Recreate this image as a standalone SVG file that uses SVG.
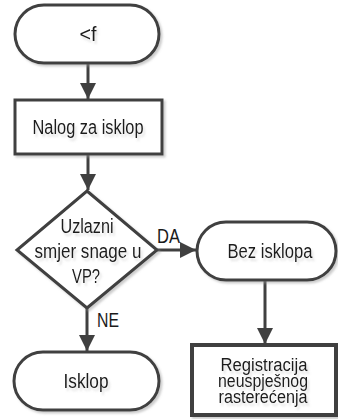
<svg xmlns="http://www.w3.org/2000/svg" width="338" height="419" viewBox="0 0 338 419">
<defs>
<style>
.s{fill:#fff;stroke:#404040;stroke-width:3;filter:url(#sh)}
.t{font-family:"Liberation Sans",Arial,sans-serif;font-size:20px;fill:#1a1a1a;text-anchor:middle;filter:url(#tsh)}
.r{font-size:18px}
.l{font-family:"Liberation Sans",Arial,sans-serif;font-size:20px;fill:#1a1a1a}
.c{fill:none;stroke:#404040;stroke-width:3}
</style>
<filter id="sh" x="-10%" y="-10%" width="130%" height="130%">
<feDropShadow dx="2" dy="2" stdDeviation="1" flood-color="#999" flood-opacity="0.5"/>
</filter>
<filter id="tsh" x="-10%" y="-20%" width="130%" height="160%">
<feDropShadow dx="2" dy="3" stdDeviation="1.2" flood-color="#999" flood-opacity="0.3"/>
</filter>
<marker id="ah" viewBox="0 0 10 10" refX="10" refY="5" markerWidth="5.5" markerHeight="5.5" orient="auto" markerUnits="strokeWidth">
<path d="M0,0L10,5L0,10z" fill="#404040"/>
</marker>
</defs>
<g id="connectors">
<line class="c" x1="88" y1="63" x2="88" y2="99" marker-end="url(#ah)"/>
<line class="c" x1="88" y1="154" x2="88" y2="190" marker-end="url(#ah)"/>
<line class="c" x1="157" y1="250" x2="196" y2="250" marker-end="url(#ah)"/>
<line class="c" x1="87" y1="308" x2="87" y2="351" marker-end="url(#ah)"/>
<line class="c" x1="265" y1="280" x2="265" y2="344" marker-end="url(#ah)"/>
<text class="l" x="157" y="243" textLength="23" lengthAdjust="spacingAndGlyphs">DA</text>
<text class="l" x="97" y="327" textLength="22" lengthAdjust="spacingAndGlyphs">NE</text>
</g>
<g id="start">
<rect class="s" x="15" y="5" width="144" height="58" rx="29"/>
<text class="t" x="88" y="41" textLength="17" lengthAdjust="spacingAndGlyphs">&lt;f</text>
</g>
<g id="nalog">
<rect class="s" x="15" y="100" width="147" height="54"/>
<text class="t" x="88" y="134" textLength="111" lengthAdjust="spacingAndGlyphs">Nalog za isklop</text>
</g>
<g id="decision">
<path class="s" d="M87,191L157,250L87,308L17,250Z"/>
<text class="t" x="87" y="233" textLength="53" lengthAdjust="spacingAndGlyphs">Uzlazni</text>
<text class="t" x="88" y="258" textLength="107" lengthAdjust="spacingAndGlyphs">smjer snage u</text>
<text class="t" x="86" y="283" textLength="28" lengthAdjust="spacingAndGlyphs">VP?</text>
</g>
<g id="bez">
<rect class="s" x="197" y="222" width="139" height="58" rx="29"/>
<text class="t" x="270" y="258" textLength="85" lengthAdjust="spacingAndGlyphs">Bez isklopa</text>
</g>
<g id="isklop">
<rect class="s" x="14" y="352" width="145" height="58" rx="29"/>
<text class="t" x="86" y="388" textLength="45" lengthAdjust="spacingAndGlyphs">Isklop</text>
</g>
<g id="registracija">
<rect class="s" x="192" y="345" width="144" height="70" style="stroke-width:4"/>
<text class="t r" x="264" y="371" textLength="87" lengthAdjust="spacingAndGlyphs">Registracija</text>
<text class="t r" x="263" y="387" textLength="90" lengthAdjust="spacingAndGlyphs">neuspješnog</text>
<text class="t r" x="263" y="403" textLength="89" lengthAdjust="spacingAndGlyphs">rasterećenja</text>
</g>
</svg>
